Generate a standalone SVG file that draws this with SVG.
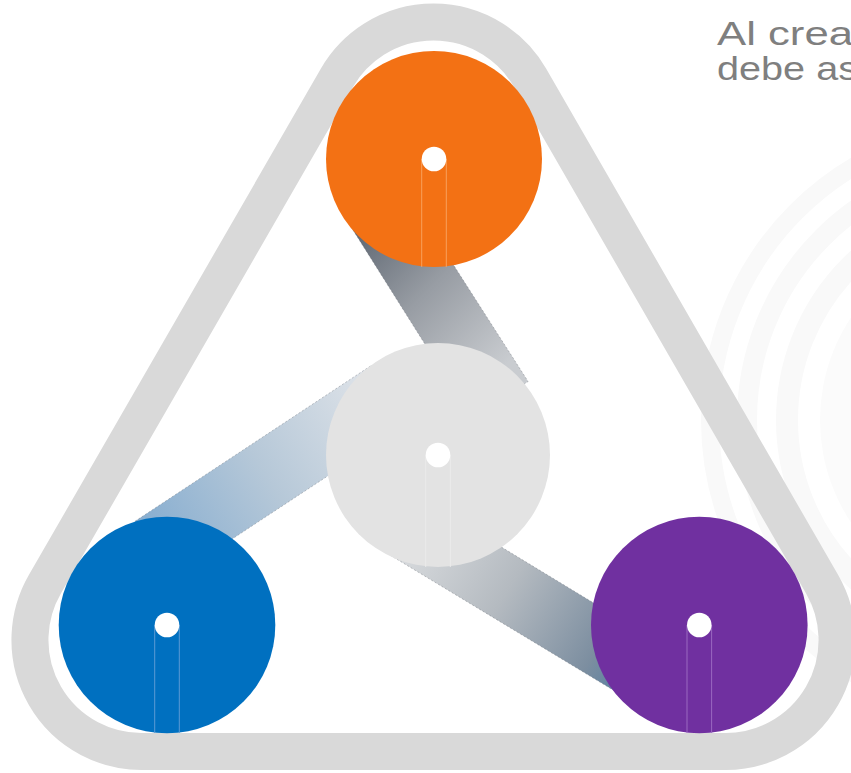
<svg xmlns="http://www.w3.org/2000/svg" width="851" height="773" viewBox="0 0 851 773">
  <defs>
    <style>
      .ring { fill: none; stroke: #f9f9f9; }
      .frame { fill: none; stroke: #d9d9d9; stroke-width: 37; stroke-linejoin: round; }
      .belt { stroke: #5a5f66; stroke-width: 1; stroke-opacity: 0.35; stroke-dasharray: 2 2; }
      .dot { fill: #ffffff; }
      .txt { font-family: "Liberation Sans", Arial, sans-serif; font-size: 34px; fill: #7f7f7f; }
    </style>
    <linearGradient id="g1" gradientUnits="userSpaceOnUse" x1="348" y1="213" x2="503" y2="368">
      <stop offset="0" stop-color="#545d69"/>
      <stop offset="0.5" stop-color="#979ca3"/>
      <stop offset="1" stop-color="#c9ccd0"/>
    </linearGradient>
    <linearGradient id="g2" gradientUnits="userSpaceOnUse" x1="150" y1="545" x2="380" y2="400">
      <stop offset="0" stop-color="#86add0"/>
      <stop offset="0.5" stop-color="#b6c8d8"/>
      <stop offset="1" stop-color="#dde2e8"/>
    </linearGradient>
    <linearGradient id="g3" gradientUnits="userSpaceOnUse" x1="390" y1="520" x2="650" y2="680">
      <stop offset="0" stop-color="#e0e2e4"/>
      <stop offset="0.45" stop-color="#b4bac0"/>
      <stop offset="0.8" stop-color="#7c8ea0"/>
      <stop offset="1" stop-color="#4a7aa3"/>
    </linearGradient>
  </defs>

  <g id="background">
    <circle class="ring" cx="1005" cy="420" r="295" stroke-width="18"/>
    <circle class="ring" cx="1005" cy="420" r="258" stroke-width="20"/>
    <circle class="ring" cx="1005" cy="420" r="218" stroke-width="22"/>
    <circle cx="1005" cy="420" r="185" fill="#fbfbfb"/>
  </g>

  <g id="title">
    <text class="txt" x="717" y="45" textLength="136" lengthAdjust="spacingAndGlyphs">Al crea</text>
    <text class="txt" x="717" y="80" textLength="141" lengthAdjust="spacingAndGlyphs">debe as</text>
  </g>

  <g id="frame">
    <path class="frame" d="M 141.4 751.5 L 725.6 751.5 A 111.5 111.5 0 0 0 822.15 584.3 L 530.05 77.8 A 111.5 111.5 0 0 0 336.95 77.8 L 44.85 584.3 A 111.5 111.5 0 0 0 141.4 751.5 Z"/>
  </g>

  <g id="connectors">
    <polygon class="belt" fill="url(#g1)" points="346,219 401.4,183.5 528.1,381.5 471.4,417.8"/>
    <polygon class="belt" fill="url(#g2)" points="135,521.3 372,365 409.6,422 172.6,578.3"/>
    <polygon class="belt" fill="url(#g3)" points="380,549 413,493.5 675.2,652.4 642.1,707.6"/>
  </g>

  <g id="node-orange">
    <circle cx="434" cy="159" r="108" fill="#f37114"/>
    <line x1="421.7" y1="159" x2="421.7" y2="267" stroke="#f8a05c" stroke-width="1"/>
    <line x1="446.3" y1="159" x2="446.3" y2="267" stroke="#f8a05c" stroke-width="1"/>
    <circle class="dot" cx="434" cy="159" r="12.3"/>
  </g>

  <g id="node-center">
    <circle cx="438" cy="455" r="112" fill="#e3e3e3"/>
    <line x1="425.7" y1="455" x2="425.7" y2="567" stroke="#ebebeb" stroke-width="1"/>
    <line x1="450.3" y1="455" x2="450.3" y2="567" stroke="#ebebeb" stroke-width="1"/>
    <circle class="dot" cx="438" cy="455" r="12.3"/>
  </g>

  <g id="node-blue">
    <circle cx="167" cy="625" r="108.3" fill="#0070c0"/>
    <line x1="154.7" y1="625" x2="154.7" y2="733" stroke="#5a9ad4" stroke-width="1"/>
    <line x1="179.3" y1="625" x2="179.3" y2="733" stroke="#5a9ad4" stroke-width="1"/>
    <circle class="dot" cx="167" cy="625" r="12.3"/>
  </g>

  <g id="node-purple">
    <circle cx="699.3" cy="625" r="108.3" fill="#7030a0"/>
    <line x1="687" y1="625" x2="687" y2="733" stroke="#9a68c0" stroke-width="1"/>
    <line x1="711.6" y1="625" x2="711.6" y2="733" stroke="#9a68c0" stroke-width="1"/>
    <circle class="dot" cx="699.3" cy="625" r="12.3"/>
  </g>
</svg>
